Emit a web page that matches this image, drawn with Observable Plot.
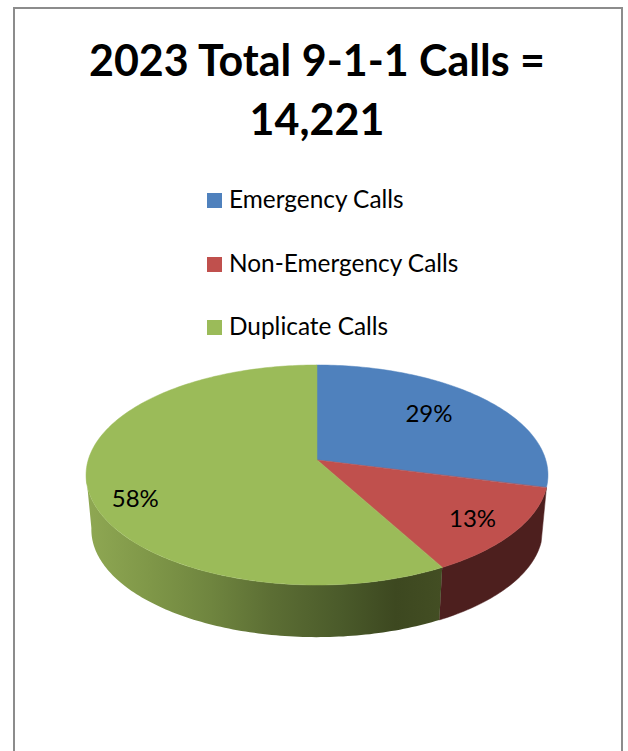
<!DOCTYPE html>
<html><head><meta charset="utf-8">
<script src="https://cdn.jsdelivr.net/npm/d3@7"></script>
<script src="https://cdn.jsdelivr.net/npm/@observablehq/plot@0.6"></script>
<style>
html,body{margin:0;padding:0;background:#fff;overflow:hidden}
#page{position:relative;width:628px;height:751px;font-family:Lato,sans-serif;color:#000}
#frame{position:absolute;left:13px;top:7px;width:606px;height:760px;border:2px solid #8c8c8c;box-sizing:content-box}
#title{position:absolute;left:14px;width:606px;top:30px;text-align:center;font-weight:700;font-size:43px;line-height:59px}
#legend{position:absolute;left:207px;top:167px}
.row{position:absolute;left:0;height:24px;white-space:nowrap;font-size:24.4px;line-height:24px}
.sw{position:absolute;left:0;top:6px;width:15px;height:15px}
.lb{position:absolute;left:22px;top:0}
#chart{position:absolute;left:0;top:350px}
svg{display:block}
</style></head><body>
<div id="page"><div id="frame"></div>
<div id="title"></div><div id="legend"></div><div id="chart"></div></div>
<script>
// ---- data ----
const titleLines = ["2023 Total 9-1-1 Calls =", "14,221"];
const categories = ["Emergency Calls", "Non-Emergency Calls", "Duplicate Calls"];
const shares = [29, 13, 58];
const colors = ["#4f81bd", "#c0504d", "#9bbb59"];

// ---- legend and title ----
d3.select("#title").selectAll("div").data(titleLines).join("div").text(d => d);
const rows = d3.select("#legend").selectAll("div").data(categories).join("div")
  .attr("class", "row").style("top", (d, i) => (20 + i * 63.5) + "px");
rows.append("span").attr("class", "sw").style("background", (d, i) => colors[i]);
rows.append("span").attr("class", "lb").text(d => d);

// ---- 3-D view of the pie: a unit disc seen in perspective ----
const W = 628, H = 401;
const persp = 0.1364, unitX = 228.8, unitY = 107.95, cx = 317, cy = 110;
const depth = 55 / unitY, shrink = 0.977;
const project = (deg, r = 1) => {
  const t = deg * Math.PI / 180, u = r * Math.sin(t), v = r * Math.cos(t), d = 1 + persp * v;
  return {x: u / d, y: v / d};
};
const cum = d3.cumsum(shares).map(c => c / 100 * 360);
const starts = [0, ...cum.slice(0, -1)];

const arc = (a, b) => {
  const n = Math.max(2, Math.ceil(b - a));
  return d3.range(n + 1).map(i => a + (b - a) * i / n);
};
const face = categories.flatMap((c, i) => arc(starts[i], cum[i]).map(deg => ({c, ...project(deg)})));
const wall = (a, b) => arc(a, b).map(deg => {
  const p = project(deg);
  return {x1: p.x, y1: p.y, x2: p.x * shrink, y2: p.y * shrink - depth};
});
const redWall = wall(starts[1], cum[1]);
const greenWall = wall(starts[2], 263);

const labelGeom = [{r: 0.65, dy: -5}, {r: 0.8, dy: 2}, {r: 0.8, dy: 17}];
const labelMarks = categories.map((c, i) => Plot.text(
  [{text: shares[i] + "%", ...project((starts[i] + cum[i]) / 2, labelGeom[i].r)}],
  {x: "x", y: "y", dy: labelGeom[i].dy, text: "text", fontSize: 24, fontFamily: "Lato, sans-serif", fill: "#000"}
));

const gradient = () => {
  const svgNS = "http://www.w3.org/2000/svg";
  const defs = document.createElementNS(svgNS, "defs");
  const g = document.createElementNS(svgNS, "linearGradient");
  g.setAttribute("id", "greenSide");
  [[0, "#8fa853"], [0.18, "#7f9748"], [0.35, "#6f853f"], [0.52, "#5c6e34"], [0.72, "#4a5a2a"], [0.87, "#3d4820"], [1, "#434e23"]]
    .forEach(([o, c]) => {
      const s = document.createElementNS(svgNS, "stop");
      s.setAttribute("offset", o); s.setAttribute("stop-color", c);
      g.appendChild(s);
    });
  defs.appendChild(g);
  return defs;
};

const plot = Plot.plot({
  width: W, height: H, margin: 0,
  x: {axis: null, domain: [-cx / unitX, (W - cx) / unitX], range: [0, W]},
  y: {axis: null, domain: [-(H - cy) / unitY, cy / unitY], range: [H, 0]},
  color: {domain: categories, range: colors},
  style: {background: "transparent"},
  marks: [
    gradient,
    Plot.area(redWall, {x1: "x1", y1: "y1", x2: "x2", y2: "y2", fill: "#4d1f1e", stroke: "#4d1f1e", strokeWidth: 0.5}),
    Plot.area(greenWall, {x1: "x1", y1: "y1", x2: "x2", y2: "y2", fill: "url(#greenSide)"}),
    Plot.area(face, {x1: "x", y1: "y", x2: () => 0, y2: () => 0, fill: "c", z: "c", stroke: "c", strokeWidth: 0.5}),
    ...labelMarks
  ]
});
document.getElementById("chart").appendChild(plot);
</script>
</body></html>
